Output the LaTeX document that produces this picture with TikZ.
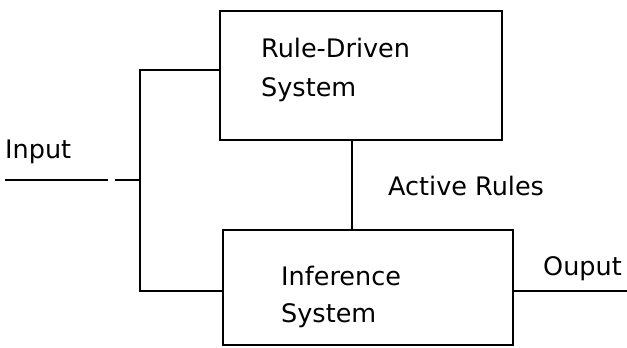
\documentclass[tikz,border=0pt]{standalone}
\usepackage{fontspec}
\setmainfont{DejaVu Sans}
\begin{document}
\begin{tikzpicture}[x=1pt,y=-1pt,
  wire/.style={line width=2.5pt},
  block/.style={draw,line width=2.5pt,rectangle,inner sep=0pt},
  lbl/.style={anchor=base west,inner sep=0pt,font=\fontsize{25.5}{30}\selectfont}]
\useasboundingbox[fill=white] (0,0) rectangle (627,348);

% blocks
\node[block,minimum width=282pt,minimum height=129pt] (rds) at (361,75.5) {};
\node[block,minimum width=290pt,minimum height=115pt] (inf) at (368,287.5) {};

% block texts
\node[lbl] (rds1) at (261,57) {Rule-Driven};
\node[lbl] (rds2) at (261,96) {System};
\node[lbl] (inf1) at (281,285) {Inference};
\node[lbl] (inf2) at (281,322) {System};

% free labels
\node[lbl] (inlbl) at (5,158) {Input};
\node[lbl] (actlbl) at (388,195) {Active Rules};
\node[lbl] (outlbl) at (543,275) {Ouput};

% connection points
\coordinate (in) at (5,180);
\coordinate (ina) at (108,180);
\coordinate (inb) at (115,180);
\coordinate (j) at (140,180);
\coordinate (tapT) at (140,70);
\coordinate (tapB) at (140,291);
\coordinate (act) at (352,0);
\coordinate (out) at (627,291);

% input line and bus
\draw[wire] (in) -- (ina);
\draw[wire] (inb) -- (j);
\draw[wire] (tapT -| rds.west) -- (tapT) -- (tapB) -- (tapB -| inf.west);

% active rules link
\draw[wire] (rds.south -| act) -- (inf.north -| act);

% output line
\draw[wire] (tapB -| inf.east) -- (out);
\end{tikzpicture}
\end{document}
